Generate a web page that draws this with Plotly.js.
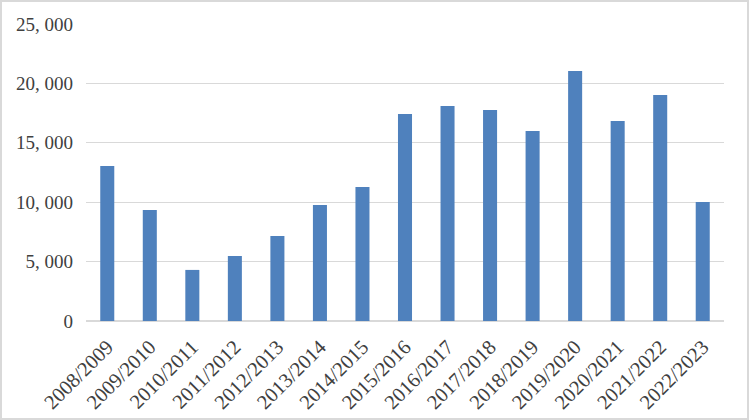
<!DOCTYPE html>
<html>
<head>
<meta charset="utf-8">
<script src="https://cdn.plot.ly/plotly-3.0.1.min.js"></script>
<style>
html,body{margin:0;padding:0;background:#fff;}
#wrap{position:relative;width:749px;height:420px;}
#chart{position:absolute;left:0;top:0;width:749px;height:420px;}
#border{position:absolute;left:0;top:0;width:749px;height:420px;box-sizing:border-box;border:2px solid #d9d9d9;pointer-events:none;}
</style>
</head>
<body>
<div id="wrap"><div id="chart"></div><div id="border"></div></div>
<script>
const seasons = ["2008/2009","2009/2010","2010/2011","2011/2012","2012/2013","2013/2014","2014/2015","2015/2016","2016/2017","2017/2018","2018/2019","2019/2020","2020/2021","2021/2022","2022/2023"];
const values = [13050, 9350, 4300, 5480, 7150, 9770, 11280, 17420, 18100, 17760, 15990, 21040, 16840, 19020, 10020];
const yTickVals = [0, 5000, 10000, 15000, 20000, 25000];
const yTickText = ["0", "5, 000", "10, 000", "15, 000", "20, 000", "25, 000"];

const fontFam = '"Liberation Serif", "DejaVu Serif", serif';
const trace = {
  type: 'bar',
  x: seasons,
  y: values,
  marker: {color: '#4f81bd'},
  hoverinfo: 'x+y'
};
const layout = {
  width: 749, height: 420,
  margin: {l: 86, r: 25, t: 24, b: 99},
  paper_bgcolor: '#ffffff',
  plot_bgcolor: '#ffffff',
  bargap: 0.67,
  showlegend: false,
  font: {family: fontFam, size: 19, color: '#404040'},
  xaxis: {
    type: 'category',
    tickangle: -45,
    showgrid: false,
    showline: false,
    ticks: '',
    ticklabelstandoff: 9,
    tickfont: {family: fontFam, size: 20.5, color: '#404040'},
    automargin: false
  },
  yaxis: {
    range: [0, 25000],
    tickvals: yTickVals,
    ticktext: yTickText,
    showgrid: true,
    gridcolor: '#d9d9d9',
    gridwidth: 1.3,
    zeroline: true,
    zerolinecolor: '#d9d9d9',
    zerolinewidth: 1.5,
    showline: false,
    ticks: '',
    ticklabelstandoff: 12,
    tickfont: {family: fontFam, size: 19, color: '#404040'},
    automargin: false
  }
};
Plotly.newPlot('chart', [trace], layout, {displayModeBar: false, staticPlot: true});
</script>
</body>
</html>
